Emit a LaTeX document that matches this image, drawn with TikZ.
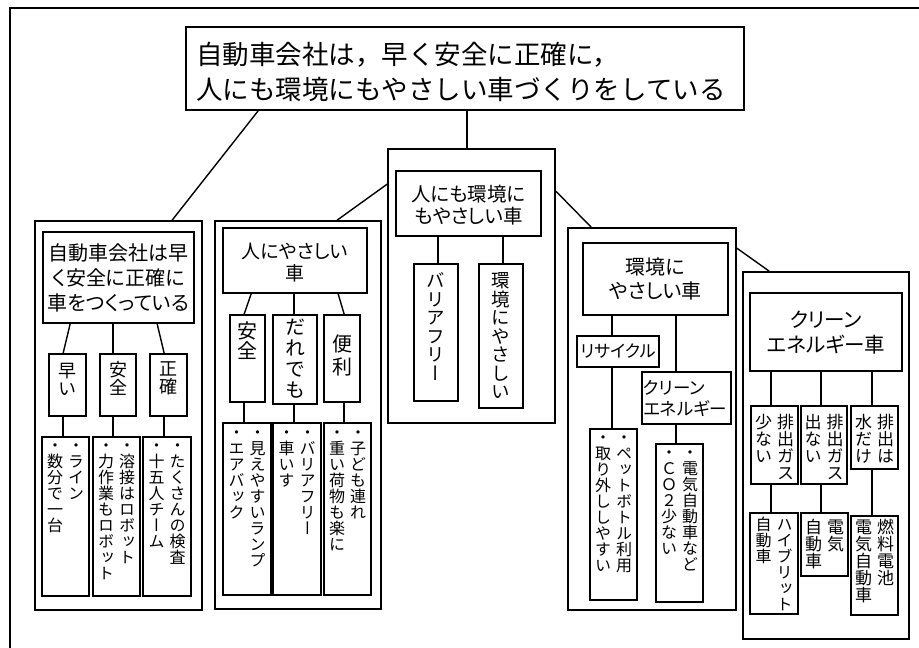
\documentclass[tikz,border=0pt]{standalone}
\usepackage{fontspec}
\setmainfont{Noto Sans CJK JP}[RawFeature=+palt]
\newfontfamily\titlefont{Noto Sans CJK JP}
\newfontfamily\vfont{Noto Sans CJK JP}[RawFeature=+vert]
\makeatletter
\newcommand\vcol[2][0pt]{\vtop{\offinterlineskip\@tfor\vch:=#2\do{\hbox to 1em{\hss\vrule height .88em depth .12em width 0pt\vch\hss}\kern#1}}}
\makeatother
\newcommand\vtwo[2]{\hbox{\vcol{#2}\kern5pt\vcol{#1}}}
\newcommand\bx[5]{\node[bx, minimum width={(#4-#2)*1pt}, minimum height={(#5-#3)*1pt}] (#1) at ({(#2+#4)/2},{(#3+#5)/2}) {};}
\tikzset{
  bx/.style={draw, line width=1.7pt, inner sep=0pt},
  cn/.style={line width=1.4pt},
  vt/.style={inner sep=0pt, anchor=north},
  ht/.style={inner sep=0pt, align=center},
  vs/.style={vt, font=\vfont\fontsize{#1pt}{#1pt}\selectfont},
  hs/.style 2 args={ht, font=\fontsize{#1pt}{#2pt}\selectfont},
}
\begin{document}
\begin{tikzpicture}[x=1pt,y=-1pt]
\useasboundingbox (0,0) rectangle (919,648);
\draw[line width=2.2pt] (10,652) -- (10,8) -- (922,8);

% title
\bx{T}{186}{27}{744}{110}
\node[inner sep=0pt, anchor=west, align=left, font=\titlefont\fontsize{26.5pt}{35pt}\selectfont] (Tt) at ([xshift=11pt,yshift=-3pt]T.west) {自動車会社は，早く安全に正確に，\\人にも環境にもやさしい車づくりをしている};

% group frames
\bx{G1}{35}{221}{202}{610}
\bx{G2}{215}{221}{381}{609}
\bx{M}{388}{149}{555}{423}
\bx{G4}{568}{228}{736}{610}
\bx{G5}{743}{272}{909}{639}

\draw[cn] ([xshift=73pt]T.south west) -- ([xshift=138pt]G1.north west);
\draw[cn] ([xshift=282pt]T.south west) -- ([xshift=80pt]M.north west);
\draw[cn] ([yshift=-36pt]M.north west) -- ([xshift=123pt]G2.north west);
\draw[cn] ([yshift=-43pt]M.north east) -- ([xshift=24pt]G4.north west);
\draw[cn] ([yshift=-21pt]G4.north east) -- ([xshift=27pt]G5.north west);

% ---- group 1
\bx{H1}{43}{232}{194}{323}
\node[hs={20}{25}] (H1t) at (H1.center) {自動車会社は早\\く安全に正確に\\車をつくっている};
\bx{a1}{49}{354}{86}{416}
\bx{a2}{100}{354}{136}{416}
\bx{a3}{150}{354}{187}{416}
\node[vs=18] (a1t) at ([yshift=-8pt]a1.north) {\vcol{早い}};
\node[vs=18] (a2t) at ([yshift=-7pt]a2.north) {\vcol{安全}};
\node[vs=18] (a3t) at ([yshift=-6pt]a3.north) {\vcol{正確}};
\draw[cn] ([xshift=28pt]H1.south west) -- ([xshift=15pt]a1.north west);
\draw[cn] ([xshift=71pt]H1.south west) -- ([xshift=14pt]a2.north west);
\draw[cn] ([xshift=115pt]H1.south west) -- ([xshift=15pt]a3.north west);
\bx{b1}{42}{437}{89}{596}
\bx{b2}{93}{437}{140}{596}
\bx{b3}{143}{437}{191}{596}
\node[vs=16] (b1t) at ([yshift=-1pt]b1.north) {\vtwo{・ライン}{・数分で一台}};
\node[vs=16] (b2t) at ([yshift=-1pt]b2.north) {\vtwo{・溶接はロボット}{・力作業もロボット}};
\node[vs=16] (b3t) at ([yshift=-1pt]b3.north) {\vtwo{・たくさんの検査}{・十五人チーム}};
\draw[cn] ([xshift=15pt]a1.south west) -- ([xshift=15pt]a1.south west |- b1.north);
\draw[cn] ([xshift=14pt]a2.south west) -- ([xshift=14pt]a2.south west |- b2.north);
\draw[cn] ([xshift=15pt]a3.south west) -- ([xshift=15pt]a3.south west |- b3.north);

% ---- group 2
\bx{H2}{223}{228}{367}{293}
\node[hs={19}{22}] (H2t) at ([yshift=-2pt]H2.center) {人にやさしい\\車};
\bx{c1}{230}{315}{265}{402}
\bx{c2}{273}{315}{317}{404}
\bx{c3}{324}{315}{360}{402}
\node[vs=20] (c1t) at ([yshift=-7pt]c1.north) {\vcol{安全}};
\node[vs=20] (c2t) at ([yshift=-3pt]c2.north) {\vcol[1pt]{だれでも}};
\node[vs=20] (c3t) at ([yshift=-20pt]c3.north) {\vcol[3pt]{便利}};
\draw[cn] ([xshift=29pt]H2.south west) -- ([xshift=15pt]c1.north west);
\draw[cn] ([xshift=72pt]H2.south west) -- ([xshift=22pt]c2.north west);
\draw[cn] ([xshift=116pt]H2.south west) -- ([xshift=21pt]c3.north west);
\bx{d1}{223}{423}{271}{595}
\bx{d2}{273}{423}{321}{595}
\bx{d3}{324}{423}{371}{595}
\node[vs=16] (d1t) at ([yshift=-2pt]d1.north) {\vtwo{・見えやすいランプ}{・エアバック}};
\node[vs=16] (d2t) at ([yshift=-2pt]d2.north) {\vtwo{・バリアフリー}{・車いす}};
\node[vs=16] (d3t) at ([yshift=-2pt]d3.north) {\vtwo{・子ども連れ}{・重い荷物も楽に}};
\draw[cn] ([xshift=15pt]c1.south west) -- ([xshift=15pt]c1.south west |- d1.north);
\draw[cn] ([xshift=22pt]c2.south west) -- ([xshift=22pt]c2.south west |- d2.north);
\draw[cn] ([xshift=21pt]c3.south west) -- ([xshift=21pt]c3.south west |- d3.north);

% ---- middle group
\bx{HM}{396}{171}{541}{236}
\node[hs={19.5}{22}] (HMt) at ([yshift=-2pt]HM.center) {人にも環境に\\もやさしい車};
\bx{e1}{414}{264}{458}{401}
\bx{e2}{479}{264}{523}{408}
\node[vs=18.5] (e1t) at ([yshift=-8pt]e1.north) {\vcol{バリアフリー}};
\node[vs=18.5] (e2t) at ([yshift=-8pt]e2.north) {\vcol{環境にやさしい}};
\draw[cn] ([xshift=43pt]HM.south west) -- ([xshift=43pt]HM.south west |- e1.north);
\draw[cn] ([xshift=108pt]HM.south west) -- ([xshift=108pt]HM.south west |- e2.north);

% ---- group 4
\bx{H4}{583}{243}{728}{315}
\node[hs={20}{24}] (H4t) at (H4.center) {環境に\\やさしい車};
\bx{f1}{577}{336}{659}{367}
\bx{f2}{642}{372}{731}{424}
\node[hs={17}{17}] (f1t) at (f1.center) {リサイクル};
\node[inner sep=0pt, anchor=west, align=left, font=\fontsize{17.5pt}{21pt}\selectfont] (f2t) at ([xshift=2pt]f2.west) {クリーン\\エネルギー};
\draw[cn] ([xshift=30pt]H4.south west) -- ([xshift=30pt]H4.south west |- f1.north);
\draw[cn] ([xshift=94pt]H4.south west) -- ([xshift=94pt]H4.south west |- f2.north);
\bx{g1}{590}{429}{637}{600}
\bx{g2}{656}{444}{703}{602}
\node[vs=16] (g1t) at ([yshift=-1pt]g1.north) {\vtwo{・ペットボトル利用}{・取り外ししやすい}};
\node[vs=16] (g2t) at ([yshift=-1pt]g2.north) {\vtwo{・電気自動車など}{・ＣＯ２少ない}};
\draw[cn] ([xshift=36pt]f1.south west) -- ([xshift=36pt]f1.south west |- g1.north);
\draw[cn] ([xshift=35pt]f2.south west) -- ([xshift=35pt]f2.south west |- g2.north);

% ---- group 5
\bx{H5}{750}{293}{902}{371}
\node[hs={20.5}{25}] (H5t) at ([yshift=-1pt]H5.center) {クリーン\\エネルギー車};
\bx{h1}{751}{406}{798}{484}
\bx{h2}{801}{406}{847}{484}
\bx{h3}{851}{406}{898}{469}
\node[vs=17] (h1t) at ([yshift=-8pt]h1.north) {\vtwo{排出ガス}{少ない}};
\node[vs=17] (h2t) at ([yshift=-8pt]h2.north) {\vtwo{排出ガス}{出ない}};
\node[vs=17] (h3t) at ([yshift=-8pt]h3.north) {\vtwo{排出は}{水だけ}};
\draw[cn] ([xshift=22pt]H5.south west) -- ([xshift=22pt]H5.south west |- h1.north);
\draw[cn] ([xshift=72pt]H5.south west) -- ([xshift=72pt]H5.south west |- h2.north);
\draw[cn] ([xshift=123pt]H5.south west) -- ([xshift=123pt]H5.south west |- h3.north);
\bx{i1}{750}{513}{798}{614}
\bx{i2}{801}{513}{848}{576}
\bx{i3}{851}{516}{898}{615}
\node[vs=16] (i1t) at ([yshift=-4pt]i1.north) {\vtwo{ハイブリット}{自動車}};
\node[vs=17] (i2t) at ([yshift=-6pt]i2.north) {\vtwo{電気}{自動車}};
\node[vs=17] (i3t) at ([yshift=-3pt]i3.north) {\vtwo{燃料電池}{電気自動車}};
\draw[cn] ([xshift=21pt]h1.south west) -- ([xshift=21pt]h1.south west |- i1.north);
\draw[cn] ([xshift=21pt]h2.south west) -- ([xshift=21pt]h2.south west |- i2.north);
\draw[cn] ([xshift=22pt]h3.south west) -- ([xshift=22pt]h3.south west |- i3.north);
\end{tikzpicture}
\end{document}
